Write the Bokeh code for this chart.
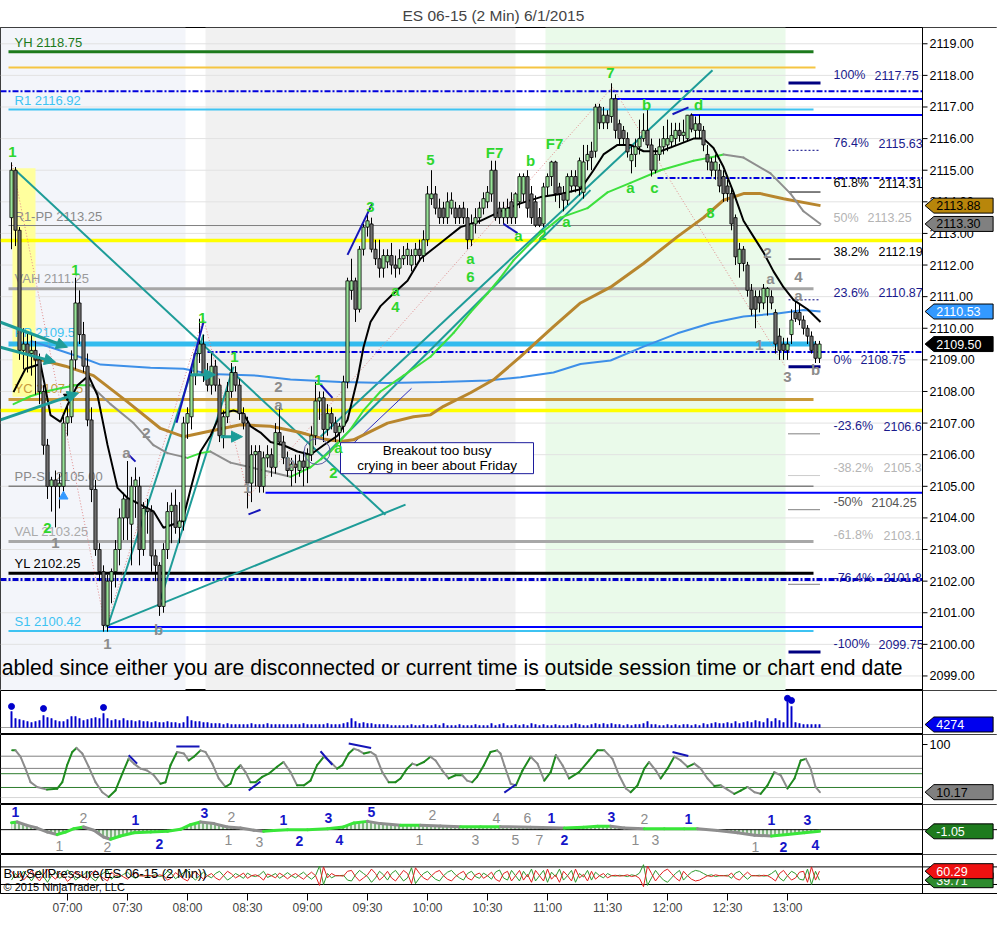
import numpy as np
from bokeh.plotting import figure
from bokeh.layouts import column
from bokeh.models import Range1d, FixedTicker, BoxAnnotation, Arrow, NormalHead
from bokeh.core.properties import value
from bokeh.embed import file_html
from bokeh.resources import INLINE

# ---------------------------------------------------------------- data
title_text = "ES 06-15 (2 Min)  6/1/2015"
tick_idx = [14, 29, 44, 59, 74, 89, 104, 119, 134, 149, 164, 179, 194]
tick_lbl = ["07:00", "07:30", "08:00", "08:30", "09:00", "09:30", "10:00",
            "10:30", "11:00", "11:30", "12:00", "12:30", "13:00"]
price_ticks = list(range(2099, 2120))

bar_open = [
    2113.5, 2115.0, 2113.1, 2109.3, 2109.5, 2109.2, 2109.3, 2109.0, 2108.0, 2106.3,
    2105.0, 2105.2, 2105.0, 2105.0, 2107.0, 2107.2, 2109.0, 2110.8, 2109.8, 2108.8,
    2107.1, 2104.9, 2103.0, 2102.3, 2100.6, 2102.0, 2102.3, 2103.0, 2104.0, 2104.6,
    2103.8, 2105.0, 2105.0, 2103.0, 2104.3, 2104.2, 2102.8, 2102.5, 2101.2, 2103.0,
    2104.2, 2104.4, 2103.7, 2103.9, 2107.0, 2107.2, 2108.5, 2109.2, 2109.5, 2108.5,
    2108.2, 2108.8, 2108.2, 2106.6, 2107.2, 2108.0, 2108.6, 2108.2, 2107.3, 2107.0,
    2105.1, 2106.0, 2106.1, 2105.0, 2105.9, 2106.0, 2105.6, 2106.7, 2106.4, 2105.9,
    2105.5, 2105.7, 2105.5, 2105.8, 2105.6, 2106.0, 2106.6, 2107.7, 2107.8, 2106.8,
    2107.3, 2107.0, 2106.7, 2106.9, 2108.3, 2111.2, 2111.5, 2110.6, 2112.5, 2113.2,
    2113.3, 2112.5, 2112.2, 2111.9, 2112.1, 2112.3, 2112.0, 2111.9, 2112.2, 2112.3,
    2112.0, 2112.3, 2112.5, 2112.3, 2112.8, 2114.1, 2114.25, 2113.8, 2113.8, 2113.5,
    2113.8, 2113.8, 2113.8, 2113.8, 2113.5, 2112.8, 2113.3, 2113.5, 2113.8, 2114.0,
    2114.25, 2115.0, 2113.8, 2113.5, 2113.5, 2114.0, 2113.5, 2114.0, 2114.25, 2114.8,
    2114.25, 2114.0, 2113.5, 2113.3, 2114.47, 2114.8, 2115.26, 2114.47, 2114.26, 2114.05,
    2114.5, 2114.8, 2114.47, 2114.3, 2115.3, 2115.6, 2115.6, 2117.0, 2116.5, 2116.74,
    2116.7, 2117.26, 2116.47, 2116.26, 2116.0, 2115.3, 2115.5, 2115.74, 2116.0, 2116.26,
    2115.8, 2115.0, 2115.5, 2115.74, 2115.8, 2115.9, 2116.0, 2116.26, 2116.1, 2116.0,
    2116.74, 2116.26, 2116.47, 2116.26, 2115.5, 2115.26, 2115.0, 2115.0, 2114.8, 2114.5,
    2114.26, 2113.5, 2112.05, 2112.5, 2112.0, 2111.2, 2111.0, 2111.0, 2110.8, 2111.0,
    2111.0, 2110.5, 2109.75, 2109.5, 2109.3, 2109.8, 2110.5, 2110.5, 2110.26, 2110.0,
    2109.75, 2109.5, 2109.05]
bar_high = [
    2115.25, 2115.1, 2113.2, 2110.0, 2109.9, 2109.8, 2109.6, 2109.2, 2108.2, 2106.5,
    2105.3, 2105.5, 2105.4, 2107.2, 2107.6, 2109.3, 2111.6, 2111.2, 2110.2, 2109.2,
    2107.5, 2105.2, 2103.2, 2102.5, 2102.2, 2102.4, 2103.3, 2104.3, 2104.8, 2105.8,
    2105.3, 2105.6, 2105.3, 2104.5, 2104.6, 2104.4, 2103.0, 2102.6, 2103.2, 2104.5,
    2104.8, 2104.9, 2104.5, 2107.2, 2107.5, 2108.7, 2109.3, 2110.3, 2109.8, 2108.9,
    2109.2, 2109.0, 2108.4, 2107.4, 2108.3, 2108.9, 2108.8, 2108.4, 2107.5, 2107.2,
    2106.3, 2106.3, 2106.3, 2106.1, 2106.3, 2106.2, 2107.0, 2107.5, 2106.6, 2106.1,
    2105.9, 2106.0, 2106.0, 2106.1, 2106.2, 2106.9, 2108.3, 2108.0, 2108.0, 2107.6,
    2107.5, 2107.2, 2107.0, 2108.5, 2111.6, 2112.2, 2111.6, 2112.6, 2113.3, 2113.6,
    2113.5, 2112.8, 2112.8, 2112.5, 2112.5, 2112.7, 2112.3, 2112.5, 2112.6, 2112.7,
    2112.5, 2112.7, 2112.8, 2113.1, 2114.5, 2115.0, 2114.5, 2114.1, 2114.0, 2114.3,
    2114.3, 2114.0, 2113.9, 2114.0, 2113.8, 2113.6, 2113.8, 2114.0, 2114.3, 2114.5,
    2115.3, 2115.3, 2114.0, 2114.0, 2114.1, 2114.3, 2114.3, 2114.9, 2114.9, 2115.0,
    2114.5, 2114.2, 2113.8, 2114.6, 2114.9, 2115.3, 2115.3, 2114.6, 2114.5, 2114.9,
    2115.0, 2115.0, 2115.4, 2115.8, 2115.8, 2115.9, 2117.1, 2117.1, 2117.0, 2116.9,
    2117.75, 2117.4, 2116.6, 2116.4, 2116.2, 2115.8, 2116.0, 2116.6, 2116.8, 2116.9,
    2116.0, 2115.7, 2116.0, 2116.4, 2116.6, 2116.5, 2116.5, 2116.5, 2116.6, 2116.75,
    2116.8, 2116.7, 2116.75, 2116.4, 2115.8, 2115.4, 2115.5, 2115.2, 2115.0, 2114.7,
    2114.4, 2113.6, 2112.7, 2112.6, 2112.1, 2111.4, 2111.2, 2111.2, 2111.4, 2111.3,
    2111.2, 2110.6, 2110.0, 2109.7, 2109.7, 2110.6, 2110.9, 2110.8, 2110.4, 2110.1,
    2109.9, 2109.6, 2109.6]
bar_low = [
    2112.5, 2112.6, 2109.0, 2108.7, 2108.6, 2108.5, 2107.9, 2107.6, 2106.0, 2104.6,
    2104.2, 2103.7, 2104.3, 2104.8, 2106.6, 2107.0, 2108.7, 2109.5, 2108.6, 2106.9,
    2104.5, 2102.8, 2102.0, 2100.4, 2100.4, 2101.3, 2101.8, 2102.5, 2103.3, 2103.3,
    2102.5, 2104.0, 2102.5, 2102.8, 2103.5, 2102.3, 2102.0, 2100.9, 2101.0, 2102.7,
    2103.2, 2103.5, 2103.2, 2103.6, 2106.5, 2106.8, 2108.2, 2108.9, 2108.3, 2108.0,
    2107.9, 2108.0, 2106.4, 2106.2, 2107.0, 2107.8, 2108.0, 2107.1, 2106.8, 2104.3,
    2104.5, 2105.0, 2104.8, 2104.8, 2105.6, 2105.3, 2105.4, 2106.3, 2105.7, 2105.3,
    2105.0, 2105.1, 2105.3, 2105.0, 2105.1, 2105.8, 2106.3, 2107.1, 2106.4, 2106.6,
    2106.8, 2106.4, 2106.4, 2106.7, 2108.1, 2110.9, 2110.2, 2110.5, 2112.3, 2112.9,
    2112.4, 2112.0, 2111.6, 2111.6, 2111.9, 2111.7, 2111.6, 2111.7, 2112.0, 2112.0,
    2111.8, 2112.0, 2112.1, 2112.1, 2112.6, 2113.9, 2113.6, 2113.3, 2113.3, 2113.3,
    2113.6, 2113.3, 2113.3, 2113.3, 2112.5, 2112.6, 2113.0, 2113.3, 2113.6, 2113.8,
    2114.0, 2113.4, 2113.3, 2113.3, 2113.3, 2113.3, 2113.3, 2113.8, 2114.0, 2113.5,
    2113.3, 2113.2, 2113.2, 2113.2, 2114.2, 2114.5, 2114.0, 2113.8, 2113.7, 2113.9,
    2114.3, 2114.3, 2114.2, 2114.1, 2115.0, 2115.0, 2115.4, 2116.3, 2116.3, 2116.3,
    2116.5, 2116.0, 2115.8, 2115.8, 2115.4, 2114.9, 2115.1, 2115.5, 2115.9, 2115.7,
    2114.8, 2114.9, 2115.3, 2115.5, 2115.6, 2115.7, 2115.8, 2115.9, 2115.9, 2115.9,
    2116.2, 2116.0, 2116.0, 2115.6, 2115.0, 2114.8, 2114.7, 2114.3, 2114.0, 2114.0,
    2113.1, 2112.0, 2111.6, 2111.8, 2111.0, 2110.4, 2110.0, 2110.5, 2110.6, 2110.4,
    2110.6, 2109.2, 2109.0, 2109.0, 2109.0, 2109.5, 2110.2, 2110.1, 2109.8, 2109.5,
    2109.2, 2108.9, 2108.9]
bar_close = [
    2115.0, 2113.1, 2109.3, 2109.5, 2109.2, 2109.3, 2109.0, 2108.0, 2106.3, 2105.0,
    2105.2, 2105.0, 2105.1, 2107.0, 2107.2, 2109.0, 2110.8, 2109.8, 2108.8, 2107.1,
    2104.9, 2103.0, 2102.3, 2100.6, 2102.0, 2102.3, 2103.0, 2104.0, 2104.6, 2104.0,
    2105.0, 2105.2, 2103.0, 2104.3, 2104.2, 2102.8, 2102.5, 2101.2, 2103.0, 2104.2,
    2104.4, 2103.7, 2103.9, 2107.0, 2107.3, 2108.5, 2109.2, 2109.5, 2108.5, 2108.2,
    2108.8, 2108.2, 2106.6, 2107.2, 2108.0, 2108.6, 2108.2, 2107.3, 2107.0, 2105.1,
    2106.0, 2106.1, 2105.0, 2105.9, 2106.0, 2105.6, 2106.7, 2106.4, 2105.9, 2105.5,
    2105.7, 2105.6, 2105.8, 2105.6, 2106.0, 2106.6, 2107.7, 2107.8, 2106.8, 2107.3,
    2107.0, 2106.7, 2106.9, 2108.3, 2111.5, 2111.5, 2110.6, 2112.5, 2113.2, 2113.4,
    2112.5, 2112.2, 2111.9, 2112.3, 2112.3, 2112.0, 2111.9, 2112.2, 2112.3, 2112.5,
    2112.3, 2112.5, 2112.3, 2112.8, 2114.25, 2114.25, 2113.8, 2113.5, 2113.5, 2114.0,
    2114.05, 2113.5, 2113.5, 2113.5, 2112.8, 2113.3, 2113.5, 2113.8, 2114.1, 2114.3,
    2115.0, 2113.5, 2113.5, 2113.8, 2113.8, 2113.5, 2114.25, 2114.8, 2114.8, 2113.8,
    2113.5, 2113.26, 2113.26, 2114.47, 2114.8, 2115.26, 2114.26, 2114.26, 2114.05, 2114.8,
    2114.8, 2114.5, 2115.3, 2115.26, 2115.5, 2115.4, 2117.0, 2116.5, 2116.74, 2116.5,
    2117.26, 2116.26, 2116.0, 2116.0, 2115.58, 2115.5, 2115.74, 2116.0, 2116.26, 2115.8,
    2115.0, 2115.5, 2115.74, 2116.0, 2116.0, 2116.1, 2116.26, 2116.1, 2116.2, 2116.74,
    2116.3, 2116.47, 2116.26, 2115.8, 2115.26, 2115.0, 2115.26, 2114.5, 2114.26, 2114.26,
    2113.3, 2112.26, 2112.5, 2112.05, 2111.2, 2110.6, 2110.6, 2110.8, 2111.26, 2111.26,
    2110.8, 2109.5, 2109.3, 2109.3, 2109.5, 2110.26, 2110.3, 2110.26, 2110.0, 2109.75,
    2109.3, 2109.05, 2109.5]

volume = [
    22800, 12800, 11400, 10000, 8500, 7100, 8500, 10000, 17100, 14200,
    12800, 10000, 8500, 8500, 11400, 15700, 15700, 12800, 10000, 11400,
    12800, 14200, 12800, 20000, 12800, 10000, 11400, 10000, 12800, 10000,
    10000, 8500, 10000, 8500, 8500, 7100, 8500, 7100, 7100, 8500,
    7100, 7100, 5700, 7100, 15700, 10000, 8500, 8500, 7100, 7100,
    5700, 5700, 5700, 4300, 5700, 4300, 4300, 4300, 4300, 4300,
    5700, 4300, 4300, 4300, 5700, 4300, 4300, 4300, 4300, 4300,
    4300, 4300, 4300, 5700, 4300, 4300, 4300, 4300, 4300, 5700,
    4300, 4300, 4300, 5700, 7100, 12800, 8500, 5700, 7100, 5700,
    5700, 4300, 4300, 4300, 4300, 2900, 2900, 2900, 2900, 2900,
    4300, 2900, 2900, 4300, 2900, 2900, 4300, 2900, 5700, 2900,
    2900, 2900, 4300, 2900, 2900, 2900, 4300, 2900, 2900, 2900,
    5700, 2900, 4300, 5700, 2900, 2900, 4300, 2900, 4300, 2900,
    5700, 4300, 2900, 4300, 2900, 2900, 4300, 2900, 2900, 2900,
    4300, 5700, 4300, 2900, 2900, 4300, 5700, 4300, 5700, 4300,
    5700, 4300, 4300, 2900, 4300, 2900, 4300, 4300, 5700, 8500,
    4300, 4300, 2900, 2900, 4300, 2900, 4300, 2900, 4300, 4300,
    2900, 4300, 2900, 5700, 4300, 5700, 7100, 5700, 5700, 7100,
    5700, 8500, 5700, 7100, 8500, 7100, 10000, 8500, 7100, 12800,
    8500, 12800, 10000, 7100, 37000, 30000, 7100, 5700, 4300, 4300,
    4300, 4300, 4274]
vol_dot_i = [0, 8, 23, 194, 195]
vol_dot_v = [30000, 27000, 28500, 41500, 38500]

buy_pct = [
    40, 55, 45, 60, 50, 38, 52, 62, 48, 35, 50, 58, 44, 50, 63, 55, 40, 47, 52, 60,
    45, 38, 50, 56, 62, 42, 50, 47, 53, 58, 49, 44, 50, 51, 49, 50, 52, 48, 50, 60,
    55, 43, 50, 57, 62, 48, 40, 50, 58, 50, 45, 55, 60, 50, 40, 46, 55, 50, 44, 56,
    50, 48, 52, 60, 46, 50, 55, 44, 50, 57, 50, 45, 52, 58, 49, 42, 50, 72, 30, 55,
    45, 50, 50, 51, 40, 38, 52, 62, 55, 48, 35, 45, 60, 52, 40, 55, 62, 50, 38, 45,
    68, 32, 45, 55, 60, 50, 42, 38, 50, 58, 62, 52, 45, 40, 55, 60, 48, 44, 56, 50,
    42, 58, 63, 45, 40, 62, 50, 38, 60, 47, 65, 38, 50, 62, 35, 58, 48, 65, 40, 50,
    62, 35, 55, 47, 62, 40, 58, 50, 45, 55, 50, 49, 51, 50, 48, 52, 50, 56, 75, 28,
    45, 62, 50, 40, 35, 45, 55, 62, 40, 50, 58, 62, 60, 55, 50, 52, 48, 50, 50, 51,
    44, 56, 60, 50, 42, 50, 50, 51, 49, 50, 55, 62, 45, 38, 50, 60, 55, 42, 40, 65,
    30, 60, 39.71]

ema_fast_i = [0.5, 3.5, 7.25, 8.5, 9.75, 12.25, 14, 16.5, 19.25, 21.5, 24, 26.5, 29, 32.25, 35.5, 38,
              40.5, 42.75, 44.75, 47.25, 49.75, 52.25, 55.5, 58, 59.75, 62.25, 64.75, 68, 71.5, 74.75,
              78, 81.5, 84, 86.5, 88, 89.75, 92.25, 95.5, 99, 102.25, 107.25, 112.25, 117.25, 122.25,
              127.25, 132.25, 137.25, 142.25, 145.5, 148, 151.5, 154.75, 158, 162.25, 166.5, 170.5,
              173, 175.5, 178, 180.5, 183, 185.5, 188, 190.5, 193, 195.5, 199, 202.25]
ema_fast_p = [2107.98, 2108.72, 2108.87, 2108.09, 2107.25, 2107.04, 2107.57, 2108.2, 2108.5, 2107.88,
              2106.31, 2104.95, 2104.63, 2104.42, 2104.21, 2103.69, 2103.8, 2103.9, 2104.9, 2106.1,
              2106.6, 2107.3, 2107.4, 2107.3, 2106.9, 2106.7, 2106.4, 2106.3, 2106.1, 2106.0, 2106.3,
              2106.6, 2107.1, 2108.4, 2109.4, 2110.2, 2110.7, 2111.1, 2111.5, 2112.2, 2112.7, 2113.2,
              2113.4, 2113.7, 2113.95, 2114.15, 2114.25, 2114.4, 2115.0, 2115.5, 2115.8, 2115.8,
              2115.6, 2115.6, 2115.8, 2116.0, 2116.0, 2115.7, 2115.1, 2114.3, 2113.4, 2112.9, 2112.4,
              2111.8, 2111.3, 2110.9, 2110.6, 2110.2]
ema_mid_i = [0.5, 4.75, 8.5, 12.25, 16, 19.75, 24.75, 30.5, 35.5, 39, 44, 47.25, 49.75, 54.75, 59.75,
             64.75, 69.75, 74.75, 79.75, 84.75, 88, 92.25, 98, 104.75, 110.5, 114.75, 119, 122.25,
             125.5, 129, 132.25, 137.25, 144, 149, 154.75, 162.25, 170.5, 174.75, 178, 183, 189.75,
             194.75, 198, 202.25]
ema_mid_p = [2107.6, 2107.85, 2108.0, 2108.1, 2108.2, 2108.2, 2107.6, 2107.0, 2106.3, 2106.05, 2105.9,
             2106.05, 2106.1, 2105.75, 2105.6, 2105.45, 2105.3, 2105.6, 2106.1, 2106.8, 2107.4, 2108.0,
             2108.5, 2109.1, 2109.85, 2110.5, 2111.1, 2111.6, 2112.15, 2112.6, 2113.0, 2113.5, 2113.8,
             2114.3, 2114.6, 2115.0, 2115.3, 2115.4, 2115.5, 2115.4, 2114.9, 2114.26, 2113.7, 2113.3]
ema_slow_i = [5.5, 7.25, 13.5, 20.5, 29, 37.25, 43, 49.75, 57.25, 64.75, 72.25, 78, 82.25, 85.5, 94,
              100.5, 104.75, 108, 114.75, 120.5, 127.25, 135.5, 142.25, 149.75, 158, 166.5, 173, 178,
              183, 187.25, 193, 202.25]
ema_slow_p = [2109.0, 2109.0, 2108.8, 2108.5, 2107.67, 2106.83, 2106.57, 2106.75, 2106.95, 2106.9,
              2106.7, 2106.5, 2106.42, 2106.47, 2107.0, 2107.2, 2107.26, 2107.53, 2107.96, 2108.37,
              2109.1, 2110.05, 2110.8, 2111.3, 2112.05, 2112.9, 2113.5, 2114.05, 2114.26, 2114.26,
              2114.1, 2113.88]
vwap_i = [4.75, 9.75, 18, 22.25, 34.75, 43, 49.75, 61.5, 69.75, 82.25, 94, 107.25, 119, 127.25,
          135.5, 142.25, 149.75, 158, 166.5, 174.75, 183, 191.5, 198, 202.25]
vwap_p = [2109.6, 2109.4, 2109.05, 2108.85, 2108.75, 2108.72, 2108.55, 2108.5, 2108.38, 2108.3,
          2108.27, 2108.3, 2108.35, 2108.45, 2108.6, 2108.87, 2108.98, 2109.42, 2109.84, 2110.16,
          2110.37, 2110.47, 2110.58, 2110.53]

zigzag_i = [0.25, 23.5, 48, 59.25, 150.25, 193.5]
zigzag_p = [2115.16, 2100.54, 2110.33, 2104.68, 2117.63, 2108.78]

osc_i = [0.17, 1, 2.25, 3.5, 4.75, 6.4, 8.9, 11.4, 12.7, 13.9, 15.2, 16.25, 17.7, 19.3, 21, 22.7, 24.3,
         26, 27.7, 29.3, 30.6, 32.25, 33.9, 35.6, 37.25, 38.5, 39.75, 41.4, 43.1, 44.3, 45.6, 47.25,
         48.5, 50.2, 51.8, 53.5, 54.75, 56, 57.25, 58.5, 59.75, 61, 62.7, 64.3, 66.4, 68, 69.75, 71.4,
         73.1, 74.75, 76.4, 78.1, 79.75, 81.4, 82.7, 84.3, 85.6, 86.8, 88.1, 89.75, 91, 92.7, 94.3,
         96, 97.25, 98.9, 100.2, 101.4, 103.1, 104.75, 106, 107.7, 109.3, 111, 112.7, 113.9, 115.2,
         116.4, 118.1, 119.75, 121.4, 122.25, 123.2, 124.8, 126.1, 127.75, 129.8, 131.5, 133.2, 134.8,
         136.1, 137.75, 139.4, 141.9, 144.4, 146.5, 148.2, 150.25, 151.9, 153.6, 154.8, 156.5, 158.2,
         159.4, 161.1, 162.3, 164, 165.7, 167.3, 169, 170.7, 172.3, 174, 175.7, 177.3, 179, 180.7,
         182.3, 184, 185.75, 187.3, 189, 190.7, 192.3, 194, 195.75, 197.3, 198.6, 199.8, 201, 202.1]
osc_v = [89, 89, 77, 54.5, 29, 20, 15, 16.5, 29, 61, 86, 93.6, 83, 58, 29, 10, 1, 13.4, 45, 73.4, 64,
         54.5, 51, 42, 26, 29, 61, 86, 83, 70, 77, 89, 86, 64, 36, 20, 26, 51, 61, 48, 29, 29, 39, 45,
         58, 67, 48, 23, 23, 32, 61, 77, 67, 54.5, 61, 83, 92, 89, 83, 86, 80, 48, 29, 29, 36, 54.5, 64,
         61, 67, 77, 70, 51, 36, 42, 42, 32, 29, 39, 61, 86, 89, 83, 61, 26, 23, 51, 77, 64, 32, 48, 80,
         61, 36, 48, 70, 89, 89, 73, 42, 17, 10, 23, 54.5, 67, 51, 36, 54.5, 77, 70, 58, 64, 54.5, 36,
         22, 23, 15, 7, 13, 20, 10, 7, 23, 48, 42, 17, 36, 70, 73, 54.5, 20, 10.17]
osc_levels = [78, 55, 45, 19, 0]
osc_div = [((29.3, 79.7), (31.4, 64)), ((41.2, 96.5), (47, 96.5)), ((59.3, 13.4), (62.25, 30.4)),
           ((77.25, 87.3), (80.2, 61.8)), ((84.3, 101.9), (89.9, 93.6)), ((123.2, 9.4), (126.1, 24.6)),
           ((165.25, 86), (169.2, 78.4))]

macd_i = [0, 1.4, 3.9, 6.4, 9, 11.4, 13.5, 15.6, 18, 20.6, 23, 24.75, 27.25, 30.6, 34.75, 39, 42.25,
          44.75, 47.25, 50.6, 54, 57.25, 60.6, 63, 65.6, 69, 74, 79, 83, 85.6, 89, 92.25, 97.25, 102.25,
          107.25, 112.25, 117.25, 122.25, 129.8, 138.2, 143, 146.5, 149.8, 153.2, 158.2, 163.2, 168.2,
          171.5, 176.5, 181.5, 185.75, 190, 194, 198.2, 202]
macd_v = [4.4, 4.8, 2.7, 1.0, -1.5, -3.1, -1.5, 0.6, 1.7, -0.4, -4.6, -6.0, -4.0, -1.9, -1.5, -1.0, 0.2,
          3.1, 4.8, 3.8, 1.7, 1.0, -0.4, -1.0, -0.6, 0, 0, 0.6, 1.7, 4.2, 5.2, 3.8, 2.7, 2.7, 2.3, 1.9,
          1.9, 1.9, 1.5, 1.0, 1.5, 2.1, 2.1, 1.0, 0.6, 0.6, 0.6, 0.6, -0.6, -1.9, -3.5, -4.0, -3.1, -1.9,
          -1.05]
macd_lbl_i = [1, 18, 12, 31, 24, 37, 48.25, 55, 54.25, 62, 68, 72, 79.25, 82, 90, 102, 105.25, 116,
              121.25, 126, 129, 132, 135, 138.25, 150, 156, 158.25, 161, 169.25, 186, 190, 193, 199, 201]
macd_lbl_v = [10.9, 7.1, -10.4, 5.8, -11.1, -9.2, 10.2, 7.7, -6.7, -8, 5.8, -7.3, 7.1, -6.7, 10.8, -6.7,
              8.9, -6.7, 7.1, -6.7, 7.1, -6.7, 7.1, -6.7, 7.7, -6.7, 6.4, -6.7, 6.4, -11.1, 5.8, -11.1,
              5.8, -9.8]
macd_lbl_t = ["1", "2", "1", "1", "2", "2", "3", "2", "1", "3", "1", "2", "3", "4", "5", "1", "2", "3",
              "4", "5", "6", "7", "1", "2", "3", "1", "2", "3", "1", "1", "1", "2", "3", "4"]
macd_lbl_blue = [1, 0, 0, 1, 0, 1, 1, 0, 0, 0, 1, 1, 1, 1, 1, 0, 0, 0, 0, 0, 0, 0, 1, 1, 1, 0, 0, 0, 1,
                 0, 1, 1, 1, 1]

level_names = ["YH 2118.75", "R1 2116.92", "R1-PP 2113.25", "VAH 2111.25", "PP 2109.5",
               "YC 2107.75", "PP-S1 2105.00", "VAL 2103.25", "YL 2102.25", "S1 2100.42"]
level_vals = [2118.75, 2116.92, 2113.25, 2111.25, 2109.5, 2107.75, 2105.0, 2103.25, 2102.25, 2100.42]
level_label_y = [2119.05, 2117.2, 2113.55, 2111.56, 2109.88, 2108.08, 2105.3, 2103.57, 2102.56, 2100.73]
fib_pct = ["100%", "76.4%", "61.8%", "50%", "38.2%", "23.6%", "0%", "-23.6%", "-38.2%", "-50%",
           "-61.8%", "-76.4%", "-100%"]
fib_val = ["2117.75", "2115.63", "2114.31", "2113.25", "2112.19", "2110.87", "2108.75", "2106.6",
           "2105.3", "2104.25", "2103.1", "2101.8", "2099.75"]
fib_label_y = [2118.0, 2115.86, 2114.58, 2113.5, 2112.42, 2111.12, 2109.0, 2106.9, 2105.58, 2104.49,
               2103.45, 2102.1, 2100.0]

green_lbl = ["1", "1", "2", "1", "1", "1", "a", "2", "3", "a", "4", "5", "a", "6", "F7", "a", "b", "2",
             "F7", "a", "7", "a", "b", "c", "d", "8"]
green_i = [0.25, 16, 9, 47.75, 55.75, 76.75, 81.75, 80.5, 89.75, 96, 96, 104.75, 114.75, 114.75, 120.75,
           126.75, 129.75, 132.75, 135.75, 138.75, 149.75, 154.75, 158.75, 160.75, 171.75, 174.75]
green_p = [2115.57, 2111.85, 2103.69, 2110.33, 2109.1, 2108.37, 2106.22, 2105.43, 2113.83, 2111.21,
           2110.67, 2115.31, 2112.22, 2111.62, 2115.57, 2112.95, 2115.31, 2112.95, 2115.85, 2113.39,
           2118.09, 2114.46, 2117.08, 2114.46, 2117.08, 2113.64]
grey_lbl = ["1", "a", "2", "1", "b", "2", "a", "1", "b", "2", "a", "4", "a", "1", "3", "b"]
grey_i = [11, 28.75, 33.75, 24, 36.75, 66.75, 66.75, 59, 69.75, 189, 189.75, 196.75, 196.75, 187, 194, 201]
grey_p = [2103.22, 2106.07, 2106.7, 2100.0, 2100.47, 2108.15, 2107.58, 2104.95, 2105.74, 2112.38,
          2111.56, 2111.62, 2111.05, 2109.47, 2108.46, 2108.68]

# ---------------------------------------------------------------- style / layout
FONT = "Liberation Sans"
W = 997
TEAL = "#1E9C98"
GREEN_T = "#2ED62E"
GREY_T = "#8C8C8C"
NAVY = "#1515B8"
DASHDOT = "6 2 2 2"
X0, X1 = -2.75, 246.5          # whole width (bar units)
AX = 227.75                     # price-scale boundary
TICK_END = 229.0
LBL_X = 229.5
xr = Range1d(X0, X1)
n = min(len(bar_open), len(bar_high), len(bar_low), len(bar_close))
idx = np.arange(n)
o = np.array(bar_open[:n]); h = np.array(bar_high[:n]); l = np.array(bar_low[:n]); c = np.array(bar_close[:n])


def base_fig(height, y0, y1, top=0, bottom=0, xaxis=None):
    p = figure(width=W, height=height, x_range=xr, y_range=Range1d(y0, y1),
               output_backend="svg", toolbar_location=None,
               x_axis_location=xaxis, y_axis_location=None,
               min_border_left=0, min_border_right=0, min_border_top=top, min_border_bottom=bottom,
               background_fill_color="white", border_fill_color="white",
               outline_line_color="black", outline_line_width=1)
    p.xgrid.visible = False
    p.ygrid.visible = False
    return p


def words(p, xs, ys, labels, color, size="13px", bold=False, align="center", baseline="middle"):
    p.text(x=xs, y=ys, text=labels, text_color=color, text_font=value(FONT), text_font_size=size,
           text_font_style="bold" if bold else "normal", text_align=align, text_baseline=baseline)


def hseg(p, y, x0, x1, color, width=1, dash="solid"):
    p.segment(x0=[x0], y0=[y], x1=[x1], y1=[y], line_color=color, line_width=width, line_dash=dash)


def two_colour(p, xs, ys, up, down, width):
    xs = np.asarray(xs, float); ys = np.asarray(ys, float)
    cols = [up if ys[k + 1] >= ys[k] else down for k in range(len(xs) - 1)]
    p.segment(x0=xs[:-1], y0=ys[:-1], x1=xs[1:], y1=ys[1:], line_color=cols, line_width=width,
              line_cap="round")


def scale_column(p, y0, y1, ticks=(), labels=()):
    p.quad(left=[AX], right=[X1], bottom=[y0], top=[y1], fill_color="white", line_color=None)
    p.segment(x0=[AX], y0=[y0], x1=[AX], y1=[y1], line_color="black", line_width=1)
    ticks = list(ticks)
    if ticks:
        p.segment(x0=[AX] * len(ticks), y0=ticks, x1=[TICK_END] * len(ticks), y1=ticks,
                  line_color="black", line_width=1)
        words(p, [LBL_X] * len(ticks), ticks, list(labels), "black", size="12.5px", align="left")


def tag(p, y, text, bg, fg, units_per_px):
    hh = 7.5 * units_per_px
    p.patch([228.4, 230.6, 245.4, 245.4, 230.6], [y, y + hh, y + hh, y - hh, y - hh],
            fill_color=bg, line_color="black", line_width=1)
    words(p, [231.2], [y], [text], fg, size="12.5px", align="left")


# ---------------------------------------------------------------- main price panel
PY0, PY1 = 2098.54, 2119.515
pm = base_fig(690, PY0, PY1, top=27)
pm.title.text = title_text
pm.title.align = "left"
pm.title.offset = 402
pm.title.text_font = FONT
pm.title.text_font_size = "15.5px"
pm.title.text_font_style = "normal"
pm.title.standoff = 8

for (a, b, col) in [(X0, 43.5, "#F3F5FA"), (48.5, 126, "#F1F1F1"), (133.5, 193.5, "#EAFAEA")]:
    pm.add_layout(BoxAnnotation(left=a, right=b, fill_color=col, fill_alpha=1, line_color=None,
                                level="underlay"))
for g in price_ticks:
    hseg(pm, g, X0, AX, "#E2E2E2", 1)

pm.quad(left=[0.25], right=[6], bottom=[2107.83], top=[2115.06], fill_color="#FFFF9E", line_color=None)

hseg(pm, level_vals[0], -0.75, 200.5, "#1C7A1C", 3)
hseg(pm, 2118.25, -0.75, 201, "#F5C542", 2)
hseg(pm, 2117.5, X0, AX, "#0000DD", 2, DASHDOT)
hseg(pm, 2117.25, 150.25, AX, "#0000FF", 2)
hseg(pm, level_vals[1], -0.75, 200.5, "#3EC3F2", 2)
hseg(pm, 2116.75, 169.75, AX, "#0000FF", 2)
hseg(pm, 2114.75, 161.5, AX, "#0000DD", 2, DASHDOT)
hseg(pm, level_vals[2], -0.75, 202.25, "#808080", 1)
hseg(pm, 2112.78, X0, AX, "#FFFF00", 3.5)
hseg(pm, level_vals[3], -0.75, 200.5, "#A6A6A6", 3)
hseg(pm, level_vals[4], -0.75, 201, "#33BBEE", 5)
hseg(pm, 2109.25, 49, AX, "#0000DD", 2, DASHDOT)
hseg(pm, level_vals[5], -0.75, 200.5, "#C99A3A", 3)
hseg(pm, 2107.4, X0, AX, "#FFFF00", 3.5)
hseg(pm, level_vals[6], -0.75, 200.5, "#808080", 1.5)
hseg(pm, 2104.8, 63.5, AX, "#0000FF", 2)
hseg(pm, level_vals[7], -0.75, 200.5, "#A8A8A8", 3)
hseg(pm, level_vals[8], -0.75, 200.5, "black", 3)
hseg(pm, 2102.05, X0, AX, "#0000CC", 3, DASHDOT)
hseg(pm, level_vals[9], -0.75, 200.5, "#3EC3F2", 2)
hseg(pm, 2100.55, 24, AX, "#0000FF", 2)
hseg(pm, 2117.76, 194.25, 202.25, "#000080", 3)
hseg(pm, 2115.63, 194.25, 202.25, "#000080", 1, "2 2")
hseg(pm, 2114.31, 194.25, 202.25, "black", 1)
hseg(pm, 2112.19, 194.25, 202.25, "black", 1)
hseg(pm, 2110.9, 194.25, 202.25, "#000080", 1, "2 2")
hseg(pm, 2108.78, 194.25, 202.25, "#000080", 3)
hseg(pm, 2106.66, 194.25, 202.25, "black", 1, "1 1")
hseg(pm, 2105.34, 194.25, 202.25, "#999999", 1, "1 1")
hseg(pm, 2104.26, 194.25, 202.25, "black", 1, "1 1")
hseg(pm, 2101.9, 194.25, 202.25, "black", 1, "1 1")
hseg(pm, 2099.76, 194.25, 202.25, "#000080", 3)

lvl_cols = ["#1C7A1C", "#3EC3F2", "#8A8A8A", "#9A9A9A", "#3EC3F2", "#C99A3A", "#8A8A8A", "#AAAAAA",
            "black", "#3EC3F2"]
words(pm, [0.75] * len(level_names), level_label_y, level_names, lvl_cols, size="13px", align="left")
fib_cols = ["#1A1A8C", "#1A1A8C", "black", "#B4B4B4", "black", "#1A1A8C", "#1A1A8C", "#1A1A8C",
            "#B4B4B4", "#555555", "#B4B4B4", "#1A1A8C", "#1A1A8C"]
fib_val_x = [215.75, 216.75, 216.75, 214, 216.75, 216.75, 212.25, 218, 218, 215, 218, 218, 216.75]
words(pm, [205.5] * len(fib_pct), fib_label_y, fib_pct, fib_cols, size="12.5px", align="left")
words(pm, fib_val_x, fib_label_y, fib_val, fib_cols, size="12.5px", align="left")

pm.line(zigzag_i, zigzag_p, line_color="#E08A8A", line_width=1, line_dash="1 2")

for (x0, y0, x1, y1) in [(1, 2115.0, 93.5, 2104.1), (23.5, 2100.57, 98.5, 2104.42),
                         (24, 2100.55, 48, 2109.8), (37.25, 2101.42, 55.5, 2108.78),
                         (77.25, 2106.57, 175.25, 2118.16), (77.25, 2105.84, 144.75, 2114.37)]:
    pm.segment(x0=[x0], y0=[y0], x1=[x1], y1=[y1], line_color=TEAL, line_width=2)
pm.segment(x0=[85.0], y0=[2106.3], x1=[100.0], y1=[2108.1], line_color="#3030C0", line_width=1)

pm.line(vwap_i, vwap_p, line_color="#3D8FE8", line_width=2)
pm.line(ema_slow_i, ema_slow_p, line_color="#B8862E", line_width=3)
two_colour(pm, ema_mid_i, ema_mid_p, "#3EE03E", "#8E8E8E", 2)
pm.line(ema_fast_i, ema_fast_p, line_color="black", line_width=2)

upm = c >= o
pm.segment(x0=idx, y0=l, x1=idx, y1=h, line_color="black", line_width=1)
pm.vbar(x=idx[upm], bottom=o[upm], top=c[upm], width=0.8, fill_color="#98E398", line_color="black",
        line_width=0.8)
pm.vbar(x=idx[~upm], bottom=c[~upm], top=o[~upm], width=0.8, fill_color="#707070", line_color="black",
        line_width=0.8)

for (x0, y0, x1, y1) in [(X0, 2110.19, 14, 2109.4), (X0, 2109.4, 11, 2108.93),
                         (X0, 2107.1, 16.75, 2107.95), (44.75, 2108.53, 51, 2108.53),
                         (52.25, 2106.57, 57.75, 2106.57)]:
    pm.add_layout(Arrow(x_start=x0, y_start=y0, x_end=x1, y_end=y1, line_color=TEAL, line_width=3,
                        end=NormalHead(size=11, fill_color=TEAL, line_color=TEAL)))
pm.scatter([13], [2104.68], marker="triangle", size=9, color="#3399FF")
pm.scatter([14], [2107.84], marker="inverted_triangle", size=8, color="black")

for (x0, y0, x1, y1) in [(84, 2112.32, 90.25, 2113.96), (41.25, 2107.01, 48, 2110.2),
                         (59.25, 2104.11, 62.25, 2104.26), (77.25, 2108.22, 80.25, 2107.8),
                         (123, 2113.3, 126.5, 2113.01), (165.25, 2116.77, 169.25, 2116.99),
                         (29.25, 2106.0, 31, 2105.78)]:
    pm.segment(x0=[x0], y0=[y0], x1=[x1], y1=[y1], line_color=NAVY, line_width=2)

pm.ellipse(x=[76.4], y=[2106.1], width=6.5, height=0.82, fill_color=None, line_color="#5A5AA0",
           line_width=1)
pm.quad(left=[82.25], right=[130.5], top=[2106.38], bottom=[2105.4], fill_color="white",
        line_color="#1C1C9C", line_width=1)
words(pm, [106.4, 106.4], [2106.12, 2105.65], ["Breakout too busy", "crying in beer about Friday"],
      "black", size="13.5px")

words(pm, green_i, green_p, green_lbl, GREEN_T, size="15px", bold=True)
words(pm, grey_i, grey_p, grey_lbl, GREY_T, size="15px", bold=True)

words(pm, [X0 + 0.3], [2099.27],
      ["abled since either you are disconnected or current time is outside session time or chart end date"],
      "black", size="21.2px", align="left")

scale_column(pm, PY0, PY1, price_ticks, ["%.2f" % t for t in price_ticks])
PPX = 1 / 31.67
tag(pm, 2113.88, "2113.88", "#B8860B", "black", PPX)
tag(pm, 2113.30, "2113.30", "#808080", "black", PPX)
tag(pm, 2110.53, "2110.53", "#3399FF", "white", PPX)
tag(pm, 2109.50, "2109.50", "black", "white", PPX)

# ---------------------------------------------------------------- volume
VY0, VY1 = -9975, 52700
pv = base_fig(44, VY0, VY1)
hseg(pv, 0, X0, AX, "#A0A0A0", 1)
vol = np.array(volume[:n], float)
pv.vbar(x=idx, bottom=0, top=vol, width=0.35, fill_color="#0000CC", line_color="#0000CC", line_width=0.5)
pv.scatter(vol_dot_i, vol_dot_v, size=6, color="#0000CC")
scale_column(pv, VY0, VY1)
tag(pv, 4274, "4274", "#0000EE", "white", 1425)

# ---------------------------------------------------------------- oscillator
OY0, OY1 = -13.1, 118.9
po = base_fig(70, OY0, OY1)
for lv, col in zip(osc_levels, ["#808080", "#808080", "#2E7D2E", "#2E7D2E", "#D6D6D6"]):
    hseg(po, lv, X0, AX, col, 1)
two_colour(po, osc_i, osc_v, "#1F8A1F", "#8C8C8C", 2)
for (a, b) in osc_div:
    po.segment(x0=[a[0]], y0=[a[1]], x1=[b[0]], y1=[b[1]], line_color=NAVY, line_width=2)
scale_column(po, OY0, OY1, [100], ["100"])
tag(po, 10.17, "10.17", "#808080", "black", 1 / 0.528)

# ---------------------------------------------------------------- MACD-like
CY0, CY1 = -15.6, 15.8
pc = base_fig(50, CY0, CY1)
pc.varea(x=macd_i, y1=0, y2=macd_v, fill_color="#1E7B1E", fill_alpha=0.12,
         hatch_pattern="vertical_line", hatch_color="#1E7B1E", hatch_scale=4, hatch_weight=1)
hseg(pc, 0, X0, X1, "black", 1)
two_colour(pc, macd_i, macd_v, "#39E639", "#8E8E8E", 3)
blue_mask = [bool(b) for b in macd_lbl_blue]
words(pc, [x for x, b in zip(macd_lbl_i, blue_mask) if b], [v for v, b in zip(macd_lbl_v, blue_mask) if b],
      [t for t, b in zip(macd_lbl_t, blue_mask) if b], "#1515C8", size="14px", bold=True)
words(pc, [x for x, b in zip(macd_lbl_i, blue_mask) if not b],
      [v for v, b in zip(macd_lbl_v, blue_mask) if not b],
      [t for t, b in zip(macd_lbl_t, blue_mask) if not b], "#8C8C8C", size="14px")
scale_column(pc, CY0, CY1)
hseg(pc, 0, AX, X1, "black", 1)
tag(pc, -1.05, "-1.05", "#1E7B1E", "white", 0.625)

# ---------------------------------------------------------------- buy / sell pressure
BY0, BY1 = 9.5, 98.2
pb = base_fig(95, BY0, BY1, bottom=56, xaxis="below")
buy = np.array(buy_pct[:n], float)
hseg(pb, 70, X0, X1, "black", 1)
hseg(pb, 30, X0, X1, "black", 1)
pb.line(idx, buy, line_color="#2E9A2E", line_width=1)
pb.line(idx, 100 - buy, line_color="#E02222", line_width=1)
words(pb, [-2.0], [55.7], ["BuySellPressure(ES 06-15 (2 Min))"], "black", size="13px", align="left")
words(pb, [-2.0], [24.5], ["\u00a9 2015 NinjaTrader, LLC"], "black", size="11px", align="left")
scale_column(pb, BY0, BY1)
hseg(pb, 70, AX, X1, "black", 1)
hseg(pb, 30, AX, X1, "black", 1)
tag(pb, 39.71, "39.71", "#2E8B2E", "white", 2.27)
tag(pb, 60.29, "60.29", "#EE1111", "white", 2.27)
ax = pb.xaxis[0]
ax.ticker = FixedTicker(ticks=tick_idx)
ax.major_label_overrides = {t: s for t, s in zip(tick_idx, tick_lbl)}
ax.major_tick_out = 7
ax.major_tick_in = 0
ax.minor_tick_line_color = None
ax.axis_line_color = "black"
ax.major_label_text_font = FONT
ax.major_label_text_font_size = "12px"
ax.major_label_standoff = 0

layout = column(pm, pv, po, pc, pb, spacing=0)
open("out.html", "w").write(file_html(layout, INLINE))
